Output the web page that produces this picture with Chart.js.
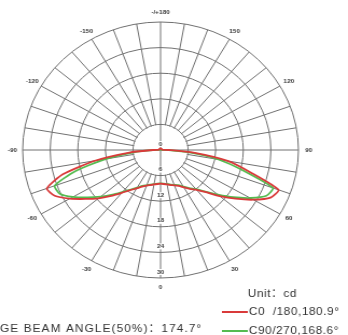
<!DOCTYPE html>
<html>
<head>
<meta charset="utf-8">
<script src="https://cdn.jsdelivr.net/npm/chart.js@4.4.1/dist/chart.umd.min.js"></script>
<style>
  html, body { margin: 0; padding: 0; background: #fff; overflow: hidden; }
  /* the source diagram is a little wider than tall, so stretch the whole chart */
  #wrap { width: 323px; height: 335px; transform: scaleX(1.0774); transform-origin: 0 0; }
</style>
</head>
<body>
<div id="wrap"><canvas id="polarChart"></canvas></div>
<script>
// gamma angles, 0 = straight down, going clockwise on screen (left side negative)
const angleLabels = ['0','-5','-10','-15','-20','-25','-30','-35','-40','-45','-50','-55','-60','-65','-70','-75','-80','-85','-90',
  '-95','-100','-105','-110','-115','-120','-125','-130','-135','-140','-145','-150','-155','-160','-165','-170','-175',
  '180','175','170','165','160','155','150','145','140','135','130','125','120','115','110','105','100','95',
  '90','85','80','75','70','65','60','55','50','45','40','35','30','25','20','15','10','5'];

// candela values, same order as angleLabels
const c0Values = [7.9,
  8.0, 8.2, 8.5, 8.9, 9.5, 10.4, 11.5, 13.1, 15.2, 17.6, 20.0, 22.8, 25.4, 26.3, 22.0, 14.5, 6.8, 1.6,
  0.5, 0.35, 0.35, 0.35, 0.35, 0.35, 0.35, 0.35, 0.35, 0.35, 0.35, 0.35, 0.35, 0.35, 0.35, 0.35, 0.35,
  0.35,
  0.35, 0.35, 0.35, 0.35, 0.35, 0.35, 0.35, 0.35, 0.35, 0.35, 0.35, 0.35, 0.35, 0.35, 0.35, 0.35, 0.5,
  1.8, 7.2, 14.8, 20.2, 27.3, 26.4, 23.3, 19.9, 16.8, 14.0, 12.2, 11.1, 10.1, 9.3, 8.8, 8.5, 8.2, 8.0];

const c90Values = [7.8,
  7.9, 8.1, 8.4, 8.8, 9.3, 10.2, 11.3, 12.8, 14.8, 17.0, 19.4, 22.0, 24.2, 24.5, 19.2, 12.2, 5.6, 1.2,
  0.3, 0.2, 0.2, 0.2, 0.2, 0.2, 0.2, 0.2, 0.2, 0.2, 0.2, 0.2, 0.2, 0.2, 0.2, 0.2, 0.2,
  0.2,
  0.2, 0.2, 0.2, 0.2, 0.2, 0.2, 0.2, 0.2, 0.2, 0.2, 0.2, 0.2, 0.2, 0.2, 0.2, 0.2, 0.3,
  1.3, 6.0, 12.8, 18.6, 26.0, 25.4, 22.5, 19.3, 16.3, 13.8, 12.0, 10.9, 9.9, 9.1, 8.7, 8.4, 8.1, 7.9];

const seriesNames = ['C0  /180,180.9°', 'C90/270,168.6°'];
const ringTicks = [0, 6, 12, 18, 24, 30];
const shownAngles = ['0', '-30', '-60', '-90', '-120', '-150', '180', '150', '120', '90', '60', '30'];
const unitText = 'Unit：cd';
const beamText = 'GE BEAM ANGLE(50%)：174.7°';

const gridColor = '#707070';
const labelColor = '#3a3a3a';
const textColor = '#333333';

const polarDecor = {
    id: 'polarDecor',
    beforeDatasetsDraw(chart) {
        const r = chart.scales.r;
        const ctx = chart.ctx;
        const inner = r.getDistanceFromCenterForValue(ringTicks[1]);
        ctx.save();

        // radial lines stop at the first ring, only the two axes cross it
        ctx.fillStyle = '#fff';
        ctx.beginPath();
        ctx.arc(r.xCenter, r.yCenter, inner - 0.7, 0, Math.PI * 2);
        ctx.fill();
        ctx.strokeStyle = gridColor;
        ctx.lineWidth = 1;
        ctx.beginPath();
        ctx.moveTo(r.xCenter, r.yCenter - inner);
        ctx.lineTo(r.xCenter, r.yCenter + inner);
        ctx.moveTo(r.xCenter - inner, r.yCenter);
        ctx.lineTo(r.xCenter + inner, r.yCenter);
        ctx.stroke();

        ctx.font = 'bold 6px "Liberation Sans"';
        ctx.textAlign = 'center';
        ctx.textBaseline = 'middle';

        // ring values down the 0 degree axis
        ringTicks.forEach(v => {
            const y = r.yCenter + r.getDistanceFromCenterForValue(v) - 6;
            const txt = String(v);
            const w = ctx.measureText(txt).width;
            ctx.fillStyle = '#fff';
            ctx.fillRect(r.xCenter - w / 2 - 1, y - 3, w + 2, 6);
            ctx.fillStyle = labelColor;
            ctx.fillText(txt, r.xCenter, y);
        });

        // angle labels outside the outer ring
        shownAngles.forEach(a => {
            const p = r.getPointPosition(angleLabels.indexOf(a), r.drawingArea + 9.5);
            ctx.fillStyle = labelColor;
            ctx.fillText(a === '180' ? '-/+180' : a, p.x, p.y);
        });
        ctx.restore();
    },
    afterDraw(chart) {
        const ctx = chart.ctx;
        ctx.save();
        ctx.font = '11px "Liberation Sans", "Noto Sans CJK SC", sans-serif';
        ctx.letterSpacing = '0.5px';
        ctx.textAlign = 'left';
        ctx.textBaseline = 'middle';
        ctx.fillStyle = textColor;
        ctx.fillText(unitText, 230, 293.5);

        const rows = [312, 331];
        chart.data.datasets.forEach((ds, i) => {
            ctx.strokeStyle = ds.borderColor;
            ctx.lineWidth = 2;
            ctx.beginPath();
            ctx.moveTo(206, rows[i]);
            ctx.lineTo(230, rows[i]);
            ctx.stroke();
            ctx.fillStyle = textColor;
            ctx.fillText(ds.label, 231, rows[i]);
        });

        ctx.letterSpacing = '1px';
        ctx.fillText(beamText, 0, 329);
        ctx.restore();
    }
};

new Chart(document.getElementById('polarChart'), {
    type: 'radar',
    data: {
        labels: angleLabels,
        datasets: [
            {
                label: seriesNames[0],
                data: c0Values,
                borderColor: '#d93a3a',
                borderWidth: 1.8,
                fill: false,
                pointRadius: 0,
                tension: 0.2
            },
            {
                label: seriesNames[1],
                data: c90Values,
                borderColor: '#55bb50',
                borderWidth: 1.8,
                fill: false,
                pointRadius: 0,
                tension: 0.2
            }
        ]
    },
    options: {
        responsive: true,
        maintainAspectRatio: false,
        animation: false,
        devicePixelRatio: 1,
        layout: { padding: { left: 21, right: 46, top: 22.5, bottom: 56.5 } },
        plugins: {
            legend: { display: false },
            tooltip: { enabled: false }
        },
        scales: {
            r: {
                min: 0,
                max: 30,
                startAngle: 180,
                ticks: { display: false, stepSize: 6 },
                pointLabels: { display: false },
                grid: { circular: true, color: gridColor, lineWidth: 1 },
                angleLines: {
                    display: true,
                    color: ctx => (ctx.index % 2 === 0 ? gridColor : 'transparent'),
                    lineWidth: 1
                }
            }
        }
    },
    plugins: [polarDecor]
});
</script>
</body>
</html>
